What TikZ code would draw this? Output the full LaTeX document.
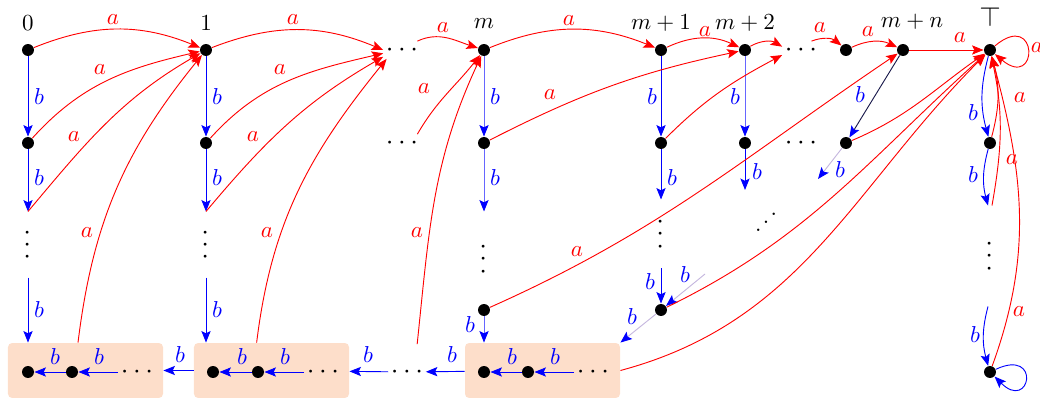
\documentclass[tikz,border=0pt]{standalone}
\usepackage{graphicx}
\usetikzlibrary{arrows.meta,calc}
\definecolor{peach}{RGB}{253,222,202}
\definecolor{lav}{RGB}{196,182,222}
\definecolor{navy}{RGB}{25,25,75}
\newcommand{\myvd}{\rotatebox{90}{$\cdots$}}
\newcommand{\myud}{\hbox{.\kern0.6pt\raise3.5pt\hbox{.}\kern0.6pt\raise7pt\hbox{.}}}
\tikzset{
 dot/.style={circle,fill=black,inner sep=0pt,minimum size=5.2pt},
 arr/.style={-{Stealth[length=5pt,width=4pt,inset=1pt,color=#1]}},
 ra/.style={draw=red,arr=red},
 ba/.style={draw=blue,arr=blue},
 lba/.style={draw=blue!60,arr=blue},
 lva/.style={draw=lav,arr=blue},
 nva/.style={draw=navy,arr=blue},
 la/.style={text=red,inner sep=0pt},
 lb/.style={text=blue,inner sep=0pt},
 hd/.style={inner sep=1pt,font=\large},
 vd/.style={inner sep=0pt,font=\large,minimum height=#1},
 box/.style={fill=peach,rounded corners=1.8pt,minimum width=67.4pt,minimum height=23.9pt,inner sep=0pt},
}
\begin{document}
\begin{tikzpicture}[x=0.4348pt,y=-0.4348pt]
\useasboundingbox (0,0) rectangle (1040,401);
% boxes
\node[box] (K1) at (85.5,370.5) {};
\node[box] (K2) at (271.5,370.5) {};
\node[box] (K3) at (542.5,370.5) {};
% column 0
\node[dot] (A0) at (28,50) {};
\node[dot] (A1) at (28,143) {};
\node[vd=28.3pt] (AV) at (28,244.5) {\myvd};
% column 1
\node[dot] (B0) at (206,50) {};
\node[dot] (B1) at (206,143) {};
\node[vd=28.3pt] (BV) at (206,244.5) {\myvd};
% dots
\node[hd] (D1) at (402,50) {$\cdots$};
\node[hd] (D1r) at (402,143) {$\cdots$};
% column m
\node[dot] (M0) at (484,50) {};
\node[dot] (M1) at (484,143) {};
\node[vd=40.9pt] (MV) at (484,259) {\myvd};
\node[dot] (M3) at (484,310) {};
% column m+1
\node[dot] (P0) at (661,50) {};
\node[dot] (P1) at (661,143) {};
\node[vd=29.6pt] (PV) at (661,234) {\myvd};
\node[dot] (P3) at (661,310) {};
% column m+2
\node[dot] (Q0) at (745,50) {};
\node[dot] (Q1) at (745,143) {};
\node[hd] (D2) at (801,50) {$\cdots$};
\node[hd] (D2r) at (801,143) {$\cdots$};
\node[inner sep=0pt] (DD) at (766,222) {\myud};
\node[dot] (N0) at (846,50) {};
\node[dot] (N1) at (846,143) {};
\node[dot] (R0) at (903,50) {};
\node[dot] (T0) at (990,50) {};
\node[dot] (T1) at (990,143) {};
\node[vd=43.5pt] (TV) at (990,256) {\myvd};
\node[dot] (T3) at (990,372) {};
% bottom row
\node[dot] (k1a) at (28,372) {};
\node[dot] (k1b) at (72,372) {};
\node[hd] (k1c) at (137,372) {$\cdots$};
\node[dot] (k2a) at (213,372) {};
\node[dot] (k2b) at (258,372) {};
\node[hd] (k2c) at (323,372) {$\cdots$};
\node[hd,minimum height=23.9pt] (bd) at (407,372) {$\cdots$};
\node[dot] (k3a) at (484,372) {};
\node[dot] (k3b) at (528,372) {};
\node[hd] (k3c) at (593,372) {$\cdots$};
% free ends
\coordinate (c1) at (705,274);
\coordinate (c2) at (745,190);
\coordinate (c3) at (818,179);
% top labels
\node (t0) at (28,23) {$0$};
\node (t1) at (206,23) {$1$};
\node (tm) at (484,24) {$m$};
\node (tm1) at (661,23) {$m+1$};
\node (tm2) at (745,23) {$m+2$};
\node (tmn) at (912,22) {$m+n$};
\node[font=\large] (tt) at (990,17) {$\top$};
% blue, column 0
\draw[ba] (A0) -- (A1) node[lb] at (39,97) {$b$};
\draw[ba] (A1) -- (AV) node[lb] at (39,178) {$b$};
\draw[ba] (AV) -- (AV |- K1.north) node[lb] at (39,310) {$b$};
\draw[ba] (k1c) -- (k1b) node[lb] at (99,357) {$b$};
\draw[ba] (k1b) -- (k1a) node[lb] at (55,357) {$b$};
\draw[ba] (K2) -- (K1) node[lb] at (180,355) {$b$};
% blue, column 1
\draw[ba] (B0) -- (B1) node[lb] at (217,97) {$b$};
\draw[ba] (B1) -- (BV) node[lb] at (217,178) {$b$};
\draw[ba] (BV) -- (BV |- K2.north) node[lb] at (217,310) {$b$};
\draw[ba] (k2c) -- (k2b) node[lb] at (285,357) {$b$};
\draw[ba] (k2b) -- (k2a) node[lb] at (242,357) {$b$};
\draw[ba] (bd) -- (K2) node[lb] at (368,355) {$b$};
\draw[ba] (K3) -- (bd) node[lb] at (452,355) {$b$};
% blue, column m
\draw[lba] (M0) -- (M1) node[lb] at (495,97) {$b$};
\draw[lba] (M1) -- (MV) node[lb] at (495,178) {$b$};
\draw[lba] (M3) -- (M3 |- K3.north) node[lb] at (470,325) {$b$};
\draw[ba] (k3c) -- (k3b) node[lb] at (555,357) {$b$};
\draw[ba] (k3b) -- (k3a) node[lb] at (512,357) {$b$};
% blue, column m+1
\draw[ba] (P0) -- (P1) node[lb] at (652,97) {$b$};
\draw[ba] (P1) -- (PV) node[lb] at (672,178) {$b$};
\draw[ba] (PV) -- (P3) node[lb] at (650,282) {$b$};
\draw[lva] (c1) -- (P3) node[lb] at (685,275) {$b$};
\draw[lva] (P3) -- (K3.north east) node[lb] at (632,317) {$b$};
% blue, column m+2 and m+n
\draw[lba] (Q0) -- (Q1) node[lb] at (735,97) {$b$};
\draw[ba] (Q1) -- (c2) node[lb] at (757,172) {$b$};
\draw[nva] (R0) -- (N1) node[lb] at (860,95) {$b$};
\draw[lva] (N1) -- (c3) node[lb] at (840,170) {$b$};
% blue, column top
\draw[ba] (T0) to[bend right=15] (T1) node[lb] at (973,113) {$b$};
\draw[ba] (T1) to[bend right=15] ($(TV.north)+(-2,0)$) node[lb] at (973,175) {$b$};
\draw[ba] ($(TV.south)+(-2,0)$) to[bend right=15] (T3) node[lb] at (975,335) {$b$};
\draw[ba] (T3) to[out=25,in=-45,min distance=22pt] (T3);
% red
\draw[ra] (A0) to[bend left=22] (B0) node[la] at (113,20) {$a$};
\draw[ra] (A1) to[out=48,in=193] (B0) node[la] at (100,70) {$a$};
\draw[ra] (AV.north) to[out=50,in=210] (B0) node[la] at (74,137) {$a$};
\draw[ra] (K1.105) to[out=83,in=231] (B0) node[la] at (87,233) {$a$};
\draw[ra] (B0) to[bend left=22] (D1.west) node[la] at (293,20) {$a$};
\draw[ra] (B1) to[out=48,in=193] (D1.190) node[la] at (280,70) {$a$};
\draw[ra] (BV.north) to[out=50,in=210] (D1.200) node[la] at (253,137) {$a$};
\draw[ra] (K2.118) to[out=83,in=231] (D1.210) node[la] at (267,233) {$a$};
\draw[ra] (D1.30) to[out=25,in=162] (M0) node[la] at (443,28) {$a$};
\draw[ra] (D1r.30) to[out=60,in=232] (M0) node[la] at (424,89) {$a$};
\draw[ra] (bd.70) to[out=84,in=245] (M0) node[la] at (417,233) {$a$};
\draw[ra] (M0) to[bend left=22] (P0) node[la] at (569,21) {$a$};
\draw[ra] (M1) to[out=27,in=192] (Q0) node[la] at (550,95) {$a$};
\draw[ra] (P0) to[bend left=25] (Q0) node[la] at (705,32) {$a$};
\draw[ra] (P1) to[out=45,in=208] (D2.195);
\draw[ra] (Q0) to[bend left=30] (D2.170);
\draw[ra] (D2.40) to[bend left=30] (N0) node[la] at (820,28) {$a$};
\draw[ra] (N0) to[bend left=25] (R0) node[la] at (868,32) {$a$};
\draw[ra] (R0) -- (T0) node[la] at (960,38) {$a$};
\draw[ra] (M3) to[out=24,in=214] (R0) node[la] at (577,252) {$a$};
\draw[ra] (P3) to[out=26,in=222] (T0);
\draw[ra] (N1) to[out=23,in=215] (T0);
\draw[ra] (K3.east) to[out=15,in=225] (T0);
\draw[ra] (T1) to[out=75,in=-75] (T0) node[la] at (1020,98) {$a$};
\draw[ra] ($(TV.north)+(2,0)$) to[out=80,in=-78] (T0) node[la] at (1012,160) {$a$};
\draw[ra] (T3) to[out=70,in=-75] (T0) node[la] at (1019,312) {$a$};
\draw[ra] (T0) to[out=40,in=-40,min distance=25pt] (T0) node[la] at (1037,48) {$a$};
\end{tikzpicture}
\end{document}
